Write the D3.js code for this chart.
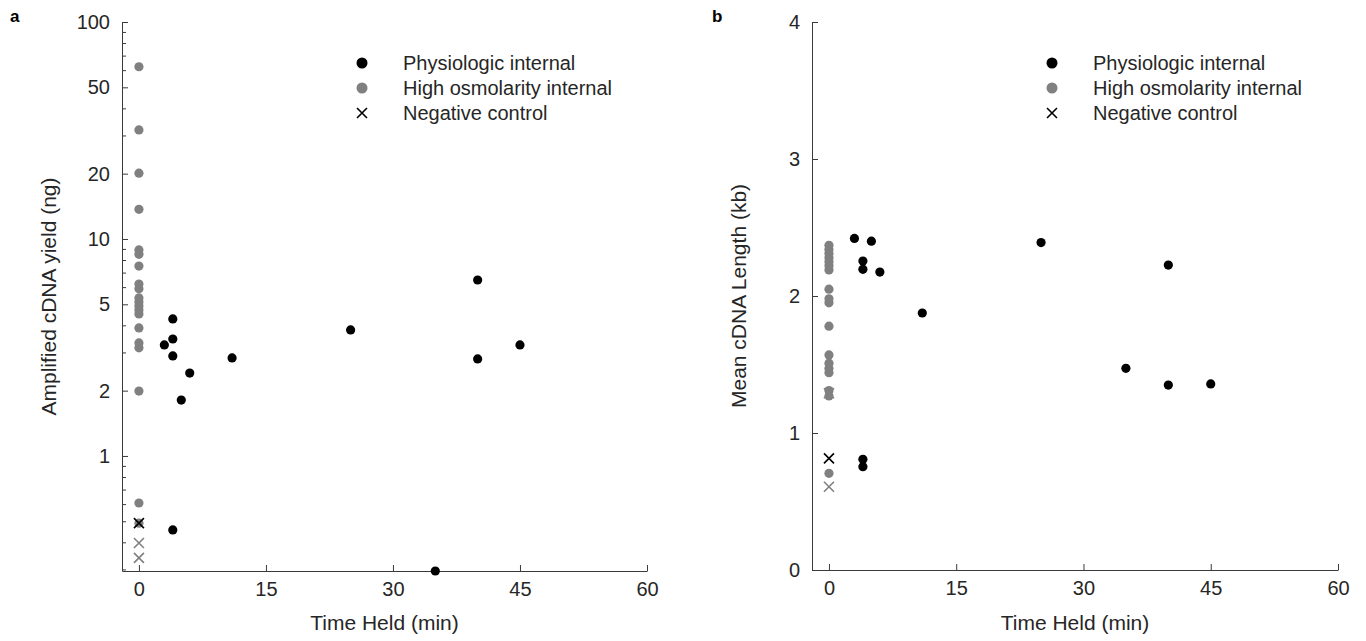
<!DOCTYPE html>
<html>
<head>
<meta charset="utf-8">
<script src="https://cdn.jsdelivr.net/npm/d3@7"></script>
<style>
  html, body { margin: 0; padding: 0; background: #fff; }
  svg { display: block; font-family: "Liberation Sans", Arial, Helvetica, sans-serif; }
</style>
</head>
<body>
<svg id="chart" width="1366" height="641"></svg>
<script>
// ---------- data ----------
// Panel a: amplified cDNA yield (ng) vs time held (min)
const aPhysX = [3, 4, 4, 4, 5, 6, 11, 25, 40, 40, 45, 4, 35];
const aPhysY = [3.25, 4.28, 3.46, 2.89, 1.81, 2.41, 2.83, 3.81, 6.47, 2.80, 3.25, 0.456, 0.295];
const aHighY = [62.2, 31.8, 20.1, 13.7, 8.9, 8.5, 7.5, 6.2, 5.9, 5.35, 5.12, 4.91, 4.71, 4.51, 3.89, 3.32, 3.15, 1.99, 0.607, 0.49];
const aNegPhysY = [0.49];
const aNegHighY = [0.397, 0.339];

// Panel b: mean cDNA length (kb) vs time held (min)
const bPhysX = [3, 5, 4, 4, 6, 11, 25, 40, 35, 40, 45, 4, 4];
const bPhysY = [2.42, 2.40, 2.255, 2.195, 2.175, 1.876, 2.39, 2.226, 1.472, 1.35, 1.358, 0.808, 0.754];
const bHighY = [2.37, 2.34, 2.31, 2.28, 2.25, 2.22, 2.19, 2.05, 1.98, 1.95, 1.78, 1.57, 1.51, 1.47, 1.44, 1.31, 1.27, 0.706];
const bNegPhysY = [0.815];
const bNegHighY = [1.29, 0.608];

const xTicks = [0, 15, 30, 45, 60];
const aYTicks = [1, 2, 5, 10, 20, 50, 100];
const aYMinor = [0.3, 0.4, 0.5, 0.6, 0.7, 0.8, 0.9, 3, 4, 6, 7, 8, 9, 30, 40, 60, 70, 80, 90];
const bYTicks = [0, 1, 2, 3, 4];
const legendLabels = ["Physiologic internal", "High osmolarity internal", "Negative control"];

// ---------- style ----------
const BLACK = "#000000", GRAY = "#808080", AXIS = "#3a3a3a", TXT = "#262626";
const R = 4.6;

const svg = d3.select("#chart");

function xMarker(g, cx, cy, color) {
  const s = 5;
  g.append("path")
    .attr("d", `M${cx - s},${cy - s}L${cx + s},${cy + s}M${cx - s},${cy + s}L${cx + s},${cy - s}`)
    .attr("stroke", color).attr("stroke-width", 1.6).attr("fill", "none");
}

function panel(opts) {
  const { left, right, top, bottom, yScale, yTicks, yMinor, yTitle, label,
          physX, physY, highY, negPhysY, negHighY } = opts;
  const x = d3.scaleLinear().domain([-2, 60]).range([left, right]);
  const y = yScale;

  const g = svg.append("g");

  // x axis
  const xa = g.append("g").attr("transform", `translate(0,${bottom})`)
    .call(d3.axisBottom(x).tickValues(xTicks).tickSizeInner(-6).tickSizeOuter(0).tickPadding(11).tickFormat(d3.format("d")));
  xa.select(".domain").attr("stroke", AXIS);
  xa.selectAll(".tick line").attr("stroke", AXIS);
  xa.selectAll("text").attr("fill", TXT).style("font-size", "20px");

  // y minor ticks
  if (yMinor) {
    const ym = g.append("g").attr("transform", `translate(${left},0)`)
      .call(d3.axisLeft(y).tickValues(yMinor).tickSizeInner(-4).tickSizeOuter(0).tickFormat(""));
    ym.select(".domain").remove();
    ym.selectAll(".tick line").attr("stroke", AXIS);
  }
  // y axis
  const ya = g.append("g").attr("transform", `translate(${left},0)`)
    .call(d3.axisLeft(y).tickValues(yTicks).tickSizeInner(-6).tickSizeOuter(0).tickPadding(12).tickFormat(d3.format("d")));
  ya.select(".domain").attr("stroke", AXIS);
  ya.selectAll(".tick line").attr("stroke", AXIS);
  ya.selectAll("text").attr("fill", TXT).style("font-size", "20px");

  // titles
  g.append("text").attr("x", (left + right) / 2).attr("y", 630)
    .attr("text-anchor", "middle").attr("fill", TXT).style("font-size", "21px").text("Time Held (min)");
  g.append("text").attr("transform", `translate(${left - 66},${(top + bottom) / 2}) rotate(-90)`)
    .attr("text-anchor", "middle").attr("fill", TXT).style("font-size", "21px").text(yTitle);
  g.append("text").attr("x", label.x).attr("y", label.y)
    .attr("fill", "#000").style("font-size", "17px").style("font-weight", "bold").text(label.t);

  // data
  const pts = g.append("g");
  pts.selectAll("circle.hi").data(highY).enter().append("circle")
    .attr("cx", x(0)).attr("cy", d => y(d)).attr("r", R).attr("fill", GRAY);
  negHighY.forEach(v => xMarker(pts, x(0), y(v), GRAY));
  negPhysY.forEach(v => xMarker(pts, x(0), y(v), BLACK));
  pts.selectAll("circle.ph").data(physX.map((d, i) => [d, physY[i]])).enter().append("circle")
    .attr("cx", d => x(d[0])).attr("cy", d => y(d[1])).attr("r", R).attr("fill", BLACK);

  // legend
  const lx = left + 240, ly = 63, dy = 25;
  const lg = g.append("g");
  lg.append("circle").attr("cx", lx).attr("cy", ly).attr("r", 5.5).attr("fill", BLACK);
  lg.append("circle").attr("cx", lx).attr("cy", ly + dy).attr("r", 5.5).attr("fill", GRAY);
  xMarker(lg, lx, ly + 2 * dy, BLACK);
  legendLabels.forEach((t, i) => {
    lg.append("text").attr("x", lx + 41).attr("y", ly + i * dy).attr("dy", "0.35em")
      .attr("fill", TXT).style("font-size", "20px").text(t);
  });
}

panel({
  left: 122, right: 647, top: 22, bottom: 571,
  yScale: d3.scaleLog().domain([0.295, 100]).range([571, 22]),
  yTicks: aYTicks, yMinor: aYMinor,
  yTitle: "Amplified cDNA yield (ng)", label: { x: 10, y: 22, t: "a" },
  physX: aPhysX, physY: aPhysY, highY: aHighY, negPhysY: aNegPhysY, negHighY: aNegHighY
});

panel({
  left: 812, right: 1338, top: 22, bottom: 570,
  yScale: d3.scaleLinear().domain([0, 4]).range([570, 22]),
  yTicks: bYTicks, yMinor: null,
  yTitle: "Mean cDNA Length (kb)", label: { x: 712, y: 22, t: "b" },
  physX: bPhysX, physY: bPhysY, highY: bHighY, negPhysY: bNegPhysY, negHighY: bNegHighY
});
</script>
</body>
</html>
